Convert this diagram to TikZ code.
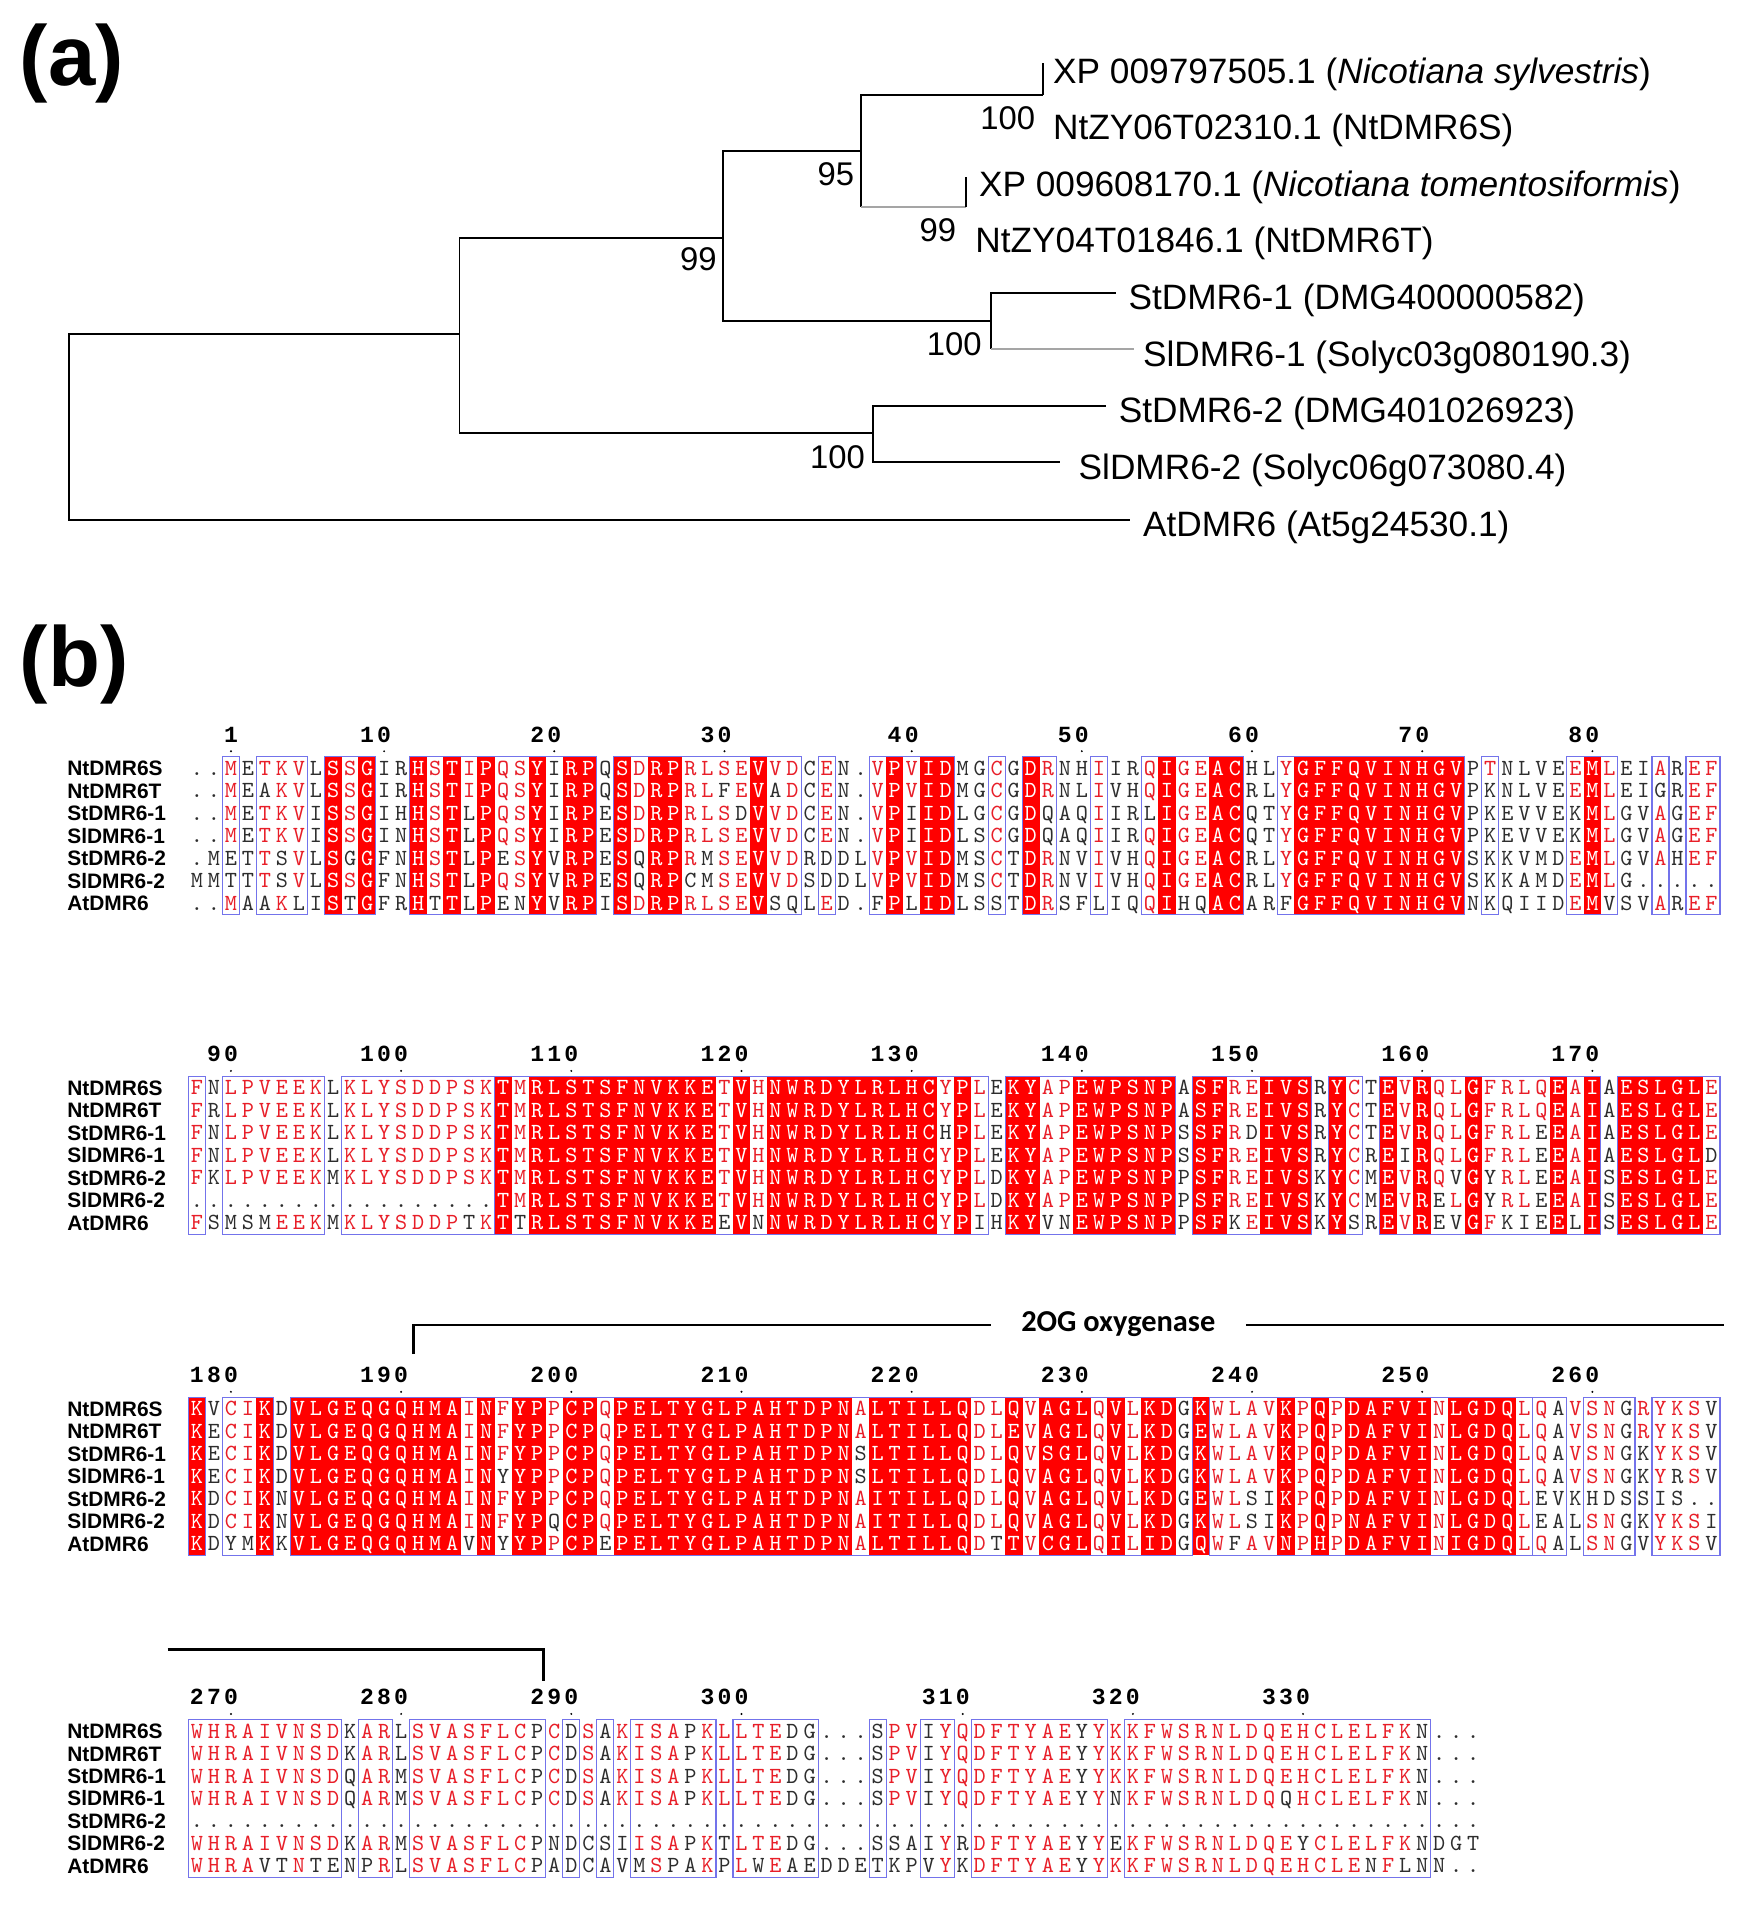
\documentclass[tikz,border=0pt]{standalone}
\usepackage{fontspec}
\setmainfont{Liberation Sans}
\newfontfamily\calfont{Carlito}
\newfontfamily\numfont{Liberation Mono}
\definecolor{espred}{RGB}{255,0,0}
\definecolor{esptxt}{RGB}{232,30,40}
\definecolor{espbox}{RGB}{115,115,235}
\definecolor{espblack}{RGB}{45,45,45}
\definecolor{treegrey}{RGB}{165,165,165}

\tikzset{
  leaf/.style={anchor=base west, inner sep=0pt, font=\fontsize{14.5}{17}\selectfont},
  boot/.style={anchor=base east, inner sep=0pt, font=\fontsize{13.5}{16}\selectfont},
  branch/.style={line width=0.8pt},
  greybranch/.style={branch, draw=treegrey},
  panel/.style={anchor=base west, inner sep=0pt, font=\fontsize{35}{40}\selectfont\bfseries},
  seqname/.style={anchor=base west, inner sep=0pt, font=\fontsize{8.6}{10}\selectfont\bfseries},
  res/.style={anchor=base, inner sep=0pt, font=\fontsize{9.5}{10}\selectfont\ttfamily},
  posnum/.style={anchor=base, inner sep=0pt, font=\fontsize{9.5}{10}\selectfont\numfont\bfseries},
  simbox/.style={draw=espbox, line width=0.45pt},
  bracket/.style={line width=1.2pt},
}

\makeatletter
\newcount\colidx
\newcommand\cw{14}
\newcommand\xo{162}
\newcommand\rowsep{18.5}
\def\gapch{.}
\def\setblock#1#2{\def\curblk{#1}\def\blky{#2}%
  \pgfmathsetmacro\ytop{#2-9.5}\pgfmathsetmacro\ybot{#2+6*\rowsep+9.5}}
% column classes: R identity (red fill), s similar, n none
\def\setclasses#1{\colidx=0 \@clsloop#1\relax}
\def\@clsloop#1{\ifx#1\relax\let\esp@next\relax\else\def\esp@next{\advance\colidx by 1
  \expandafter\xdef\csname cls\curblk-\the\colidx\endcsname{#1}%
  \if R#1\pgfmathsetmacro\resx{\xo+(\the\colidx-1)*\cw}%
    \fill[espred] (\resx-7.2,\ytop) rectangle (\resx+7.2,\ybot);\fi
  \@clsloop}\fi\esp@next}
\def\seqrow#1#2#3{\def\currow{#1}%
  \pgfmathsetmacro\resy{\blky+(#1-1)*\rowsep}%
  \node[seqname] (n\curblk-#1) at (55,\resy+6.2) {#2};%
  \colidx=0 \@seqloop#3\relax}
\def\@seqloop#1{\ifx#1\relax\let\esp@next\relax\else\def\esp@next{\advance\colidx by 1
  \putres{#1}\@seqloop}\fi\esp@next}
\def\putres#1{%
  \edef\curcls{\csname cls\curblk-\the\colidx\endcsname}%
  \ifnum\currow=1 \expandafter\xdef\csname ref\curblk-\the\colidx\endcsname{#1}\fi
  \edef\curref{\csname ref\curblk-\the\colidx\endcsname}%
  \edef\curch{#1}%
  \def\rescol{espblack}%
  \if R\curcls\def\rescol{white}\fi
  \if s\curcls\ifx\curch\curref\def\rescol{esptxt}\fi\fi
  \ifx\curch\gapch\def\rescol{espblack}\fi
  \pgfmathsetmacro\resx{\xo+(\the\colidx-1)*\cw}%
  \node[res,text=\rescol] (r\curblk-\currow-\the\colidx) at (\resx,\resy+5.8) {#1};}
\def\posnum#1#2{\colidx=#1\relax\advance\colidx by -1 \@numloop#2\relax
  \pgfmathsetmacro\resx{\xo+(\the\colidx-1)*\cw}%
  \fill (\resx,\blky-14) circle (0.9);}
\def\@numloop#1{\ifx#1\relax\let\esp@next\relax\else\def\esp@next{\advance\colidx by 1
  \pgfmathsetmacro\resx{\xo+(\the\colidx-1)*\cw}%
  \node[posnum] (p\curblk-\the\colidx) at (\resx,\blky-21.5) {#1};\@numloop}\fi\esp@next}
\def\simboxes#1{\foreach \a/\b in {#1}{%
  \draw[simbox] ({\xo+(\a-1.5)*\cw},\ytop) rectangle ({\xo+(\b-0.5)*\cw},\ybot);}}
\makeatother

\begin{document}
\begin{tikzpicture}[x=0.5pt,y=-0.5pt]
\fill[white] (0,0) rectangle (1431,1568);
\useasboundingbox (0,0) rectangle (1431,1568);

% (a) tree
\node[panel] (pa) at (16,70) {(a)};
\coordinate (root) at (57,351.5);
\coordinate (nA) at (378,275);
\coordinate (nB) at (595,196);
\coordinate (nF) at (718,356);
\coordinate (nC) at (708,124);
\coordinate (nE) at (815,264);
\coordinate (nD) at (858,78);
\coordinate (nG) at (795,170);
\coordinate (tD) at (858,52);
\coordinate (tG) at (795,146);
\coordinate (tE1) at (918,241);
\coordinate (tE2) at (933,287);
\coordinate (tF1) at (910,334);
\coordinate (tF2) at (872,380);
\coordinate (tAt) at (930,428);

\draw[branch] (root) |- (nA);
\draw[branch] (root) |- (tAt);
\draw[branch] (nA) |- (nB);
\draw[branch] (nA) |- (nF);
\draw[branch] (nB) |- (nC);
\draw[branch] (nB) |- (nE);
\draw[branch] (nC) |- (nD);
\draw[branch] (nD) -- (tD);
\draw[branch] (nC) -- (nC |- nG);
\draw[greybranch] (nC |- nG) -- (nG);
\draw[branch] (nG) -- (tG);
\draw[branch] (nE) |- (tE1);
\draw[branch] (nE) -- (nE |- tE2);
\draw[greybranch] (nE |- tE2) -- (tE2);
\draw[branch] (nF) |- (tF1);
\draw[branch] (nF) |- (tF2);

\node[leaf] (l1) at (866,68.5) {XP 009797505.1 (\textit{Nicotiana sylvestris})};
\node[leaf] (l2) at (866,114.5) {NtZY06T02310.1 (NtDMR6S)};
\node[leaf] (l3) at (805,161.5) {XP 009608170.1 (\textit{Nicotiana tomentosiformis})};
\node[leaf] (l4) at (802,207.5) {NtZY04T01846.1 (NtDMR6T)};
\node[leaf] (l5) at (928,254.5) {StDMR6-1 (DMG400000582)};
\node[leaf] (l6) at (940,301.5) {SlDMR6-1 (Solyc03g080190.3)};
\node[leaf] (l7) at (920,347.5) {StDMR6-2 (DMG401026923)};
\node[leaf] (l8) at (887,394.5) {SlDMR6-2 (Solyc06g073080.4)};
\node[leaf] (l9) at (940,441.5) {AtDMR6 (At5g24530.1)};

\node[boot] (b1) at (852,106.7) {100};
\node[boot] (b2) at (703,152.7) {95};
\node[boot] (b3) at (787,198.7) {99};
\node[boot] (b4) at (590,222.7) {99};
\node[boot] (b5) at (808,292.7) {100};
\node[boot] (b6) at (712,385.7) {100};

% (b) alignment
\node[panel] (pb) at (16,565) {(b)};

\setblock{1}{632}
\setclasses{nnsnsssnRsRnnRsRsRssRnRRnRsRRssssRssnsnnsRsRRnnsnRsnnsnnsRssRRnnsRRRRRRRRRRnsnnnnsRsnnsnss}
\seqrow{1}{NtDMR6S}{..METKVLSSGIRHSTIPQSYIRPQSDRPRLSEVVDCEN.VPVIDMGCGDRNHIIRQIGEACHLYGFFQVINHGVPTNLVEEMLEIAREF}
\seqrow{2}{NtDMR6T}{..MEAKVLSSGIRHSTIPQSYIRPQSDRPRLFEVADCEN.VPVIDMGCGDRNLIVHQIGEACRLYGFFQVINHGVPKNLVEEMLEIGREF}
\seqrow{3}{StDMR6-1}{..METKVISSGIHHSTLPQSYIRPESDRPRLSDVVDCEN.VPIIDLGCGDQAQIIRLIGEACQTYGFFQVINHGVPKEVVEKMLGVAGEF}
\seqrow{4}{SlDMR6-1}{..METKVISSGINHSTLPQSYIRPESDRPRLSEVVDCEN.VPIIDLSCGDQAQIIRQIGEACQTYGFFQVINHGVPKEVVEKMLGVAGEF}
\seqrow{5}{StDMR6-2}{.METTSVLSGGFNHSTLPESYVRPESQRPRMSEVVDRDDLVPVIDMSCTDRNVIVHQIGEACRLYGFFQVINHGVSKKVMDEMLGVAHEF}
\seqrow{6}{SlDMR6-2}{MMTTTSVLSSGFNHSTLPQSYVRPESQRPCMSEVVDSDDLVPVIDMSCTDRNVIVHQIGEACRLYGFFQVINHGVSKKAMDEMLG.....}
\seqrow{7}{AtDMR6}{..MAAKLISTGFRHTTLPENYVRPISDRPRLSEVSQLED.FPLIDLSSTDRSFLIQQIHQACARFGFFQVINHGVNKQIIDEMVSVAREF}
\simboxes{3/3,5/7,9/11,14/24,26/36,38/38,41/45,48/48,50/51,54/54,57/62,65/75,77/77,82/84,87/87,89/90}
\posnum{3}{1}\posnum{11}{10}\posnum{21}{20}\posnum{31}{30}\posnum{42}{40}\posnum{52}{50}\posnum{62}{60}\posnum{72}{70}\posnum{82}{80}

\setblock{2}{895}
\setclasses{snssssssnsssssssssRsRRRRRRRRRRRsRsRRRRRRRRRRsRsnRRssRRRRRRnRRssRRRnRsnRsRssRssssRsRnRRRRRs}
\seqrow{1}{NtDMR6S}{FNLPVEEKLKLYSDDPSKTMRLSTSFNVKKETVHNWRDYLRLHCYPLEKYAPEWPSNPASFREIVSRYCTEVRQLGFRLQEAIAESLGLE}
\seqrow{2}{NtDMR6T}{FRLPVEEKLKLYSDDPSKTMRLSTSFNVKKETVHNWRDYLRLHCYPLEKYAPEWPSNPASFREIVSRYCTEVRQLGFRLQEAIAESLGLE}
\seqrow{3}{StDMR6-1}{FNLPVEEKLKLYSDDPSKTMRLSTSFNVKKETVHNWRDYLRLHCHPLEKYAPEWPSNPSSFRDIVSRYCTEVRQLGFRLEEAIAESLGLE}
\seqrow{4}{SlDMR6-1}{FNLPVEEKLKLYSDDPSKTMRLSTSFNVKKETVHNWRDYLRLHCYPLEKYAPEWPSNPSSFREIVSRYCREIRQLGFRLEEAIAESLGLD}
\seqrow{5}{StDMR6-2}{FKLPVEEKMKLYSDDPSKTMRLSTSFNVKKETVHNWRDYLRLHCYPLDKYAPEWPSNPPSFREIVSKYCMEVRQVGYRLEEAISESLGLE}
\seqrow{6}{SlDMR6-2}{..................TMRLSTSFNVKKETVHNWRDYLRLHCYPLDKYAPEWPSNPPSFREIVSKYCMEVRELGYRLEEAISESLGLE}
\seqrow{7}{AtDMR6}{FSMSMEEKMKLYSDDPTKTTRLSTSFNVKKEEVNNWRDYLRLHCYPIHKYVNEWPSNPPSFKEIVSKYSREVREVGFKIEELISESLGLE}
\simboxes{1/1,3/8,10/18,19/47,49/58,60/66,68/69,71/83,85/90}
\posnum{2}{90}\posnum{11}{100}\posnum{21}{110}\posnum{31}{120}\posnum{41}{130}\posnum{51}{140}\posnum{61}{150}\posnum{71}{160}\posnum{81}{170}

\setblock{3}{1159}
\setclasses{RnssRnRRRRRRRRRRsRsRRsRRsRRRRRRRRRRRRRRsRRRRRRssRsRRRsRsRRnRssssRsRsRRRRRsRRRRssnsssnssss}
\seqrow{1}{NtDMR6S}{KVCIKDVLGEQGQHMAINFYPPCPQPELTYGLPAHTDPNALTILLQDLQVAGLQVLKDGKWLAVKPQPDAFVINLGDQLQAVSNGRYKSV}
\seqrow{2}{NtDMR6T}{KECIKDVLGEQGQHMAINFYPPCPQPELTYGLPAHTDPNALTILLQDLEVAGLQVLKDGEWLAVKPQPDAFVINLGDQLQAVSNGRYKSV}
\seqrow{3}{StDMR6-1}{KECIKDVLGEQGQHMAINFYPPCPQPELTYGLPAHTDPNSLTILLQDLQVSGLQVLKDGKWLAVKPQPDAFVINLGDQLQAVSNGKYKSV}
\seqrow{4}{SlDMR6-1}{KECIKDVLGEQGQHMAINYYPPCPQPELTYGLPAHTDPNSLTILLQDLQVAGLQVLKDGKWLAVKPQPDAFVINLGDQLQAVSNGKYRSV}
\seqrow{5}{StDMR6-2}{KDCIKNVLGEQGQHMAINFYPPCPQPELTYGLPAHTDPNAITILLQDLQVAGLQVLKDGEWLSIKPQPDAFVINLGDQLEVKHDSSIS..}
\seqrow{6}{SlDMR6-2}{KDCIKNVLGEQGQHMAINFYPQCPQPELTYGLPAHTDPNAITILLQDLQVAGLQVLKDGKWLSIKPQPNAFVINLGDQLEALSNGKYKSI}
\seqrow{7}{AtDMR6}{KDYMKKVLGEQGQHMAVNYYPPCPEPELTYGLPAHTDPNALTILLQDTTVCGLQILIDGQWFAVNPHPDAFVINIGDQLQALSNGVYKSV}
\simboxes{1/1,3/5,7/59,61/79,80/81,83/85,87/90}
\posnum{1}{180}\posnum{11}{190}\posnum{21}{200}\posnum{31}{210}\posnum{41}{220}\posnum{51}{230}\posnum{61}{240}\posnum{71}{250}\posnum{81}{260}

\node[font={\calfont\fontsize{12.5}{14}\selectfont\bfseries}] (dom) at (920,1089) {2OG oxygenase};
\coordinate (domstart) at (340,1114);
\coordinate (domend) at (1418,1090);
\draw[bracket] (domstart) |- ([xshift=-9pt]dom.west |- domend);
\draw[bracket] ([xshift=9pt]dom.east |- domend) -- (domend);

\setblock{4}{1424}
\setclasses{sssssssssnssnsssssssnsnsnssssnsssssnnnsnnssnssssssssnsssssssssssssssssssnnn}
\seqrow{1}{NtDMR6S}{WHRAIVNSDKARLSVASFLCPCDSAKISAPKLLTEDG...SPVIYQDFTYAEYYKKFWSRNLDQEHCLELFKN...}
\seqrow{2}{NtDMR6T}{WHRAIVNSDKARLSVASFLCPCDSAKISAPKLLTEDG...SPVIYQDFTYAEYYKKFWSRNLDQEHCLELFKN...}
\seqrow{3}{StDMR6-1}{WHRAIVNSDQARMSVASFLCPCDSAKISAPKLLTEDG...SPVIYQDFTYAEYYKKFWSRNLDQEHCLELFKN...}
\seqrow{4}{SlDMR6-1}{WHRAIVNSDQARMSVASFLCPCDSAKISAPKLLTEDG...SPVIYQDFTYAEYYNKFWSRNLDQQHCLELFKN...}
\seqrow{5}{StDMR6-2}{............................................................................}
\seqrow{6}{SlDMR6-2}{WHRAIVNSDKARMSVASFLCPNDCSIISAPKTLTEDG...SSAIYRDFTYAEYYEKFWSRNLDQEYCLELFKNDGT}
\seqrow{7}{AtDMR6}{WHRAVTNTENPRLSVASFLCPADCAVMSPAKPLWEAEDDETKPVYKDFTYAEYYKKFWSRNLDQEHCLENFLNN..}
\simboxes{1/9,11/12,14/21,23/23,25/25,27/31,33/37,41/41,44/45,47/54,56/73}
\posnum{1}{270}\posnum{11}{280}\posnum{21}{290}\posnum{31}{300}\posnum{44}{310}\posnum{54}{320}\posnum{64}{330}

\coordinate (domcont) at (138,1357);
\coordinate (domstop) at (447,1383);
\draw[bracket] (domcont) -| (domstop);
\end{tikzpicture}
\end{document}
